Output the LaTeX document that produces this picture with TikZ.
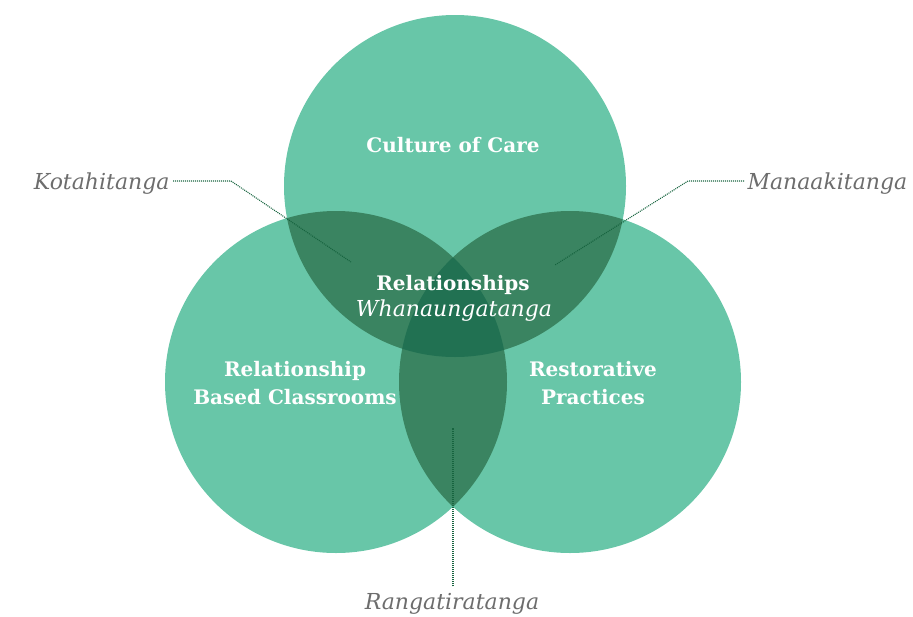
\documentclass[tikz,border=0pt]{standalone}
\usepackage{fontspec}
\setmainfont{DejaVu Serif}
\usetikzlibrary{positioning}
\definecolor{venngreen}{HTML}{68C6A8}
\definecolor{lensgreen}{HTML}{3A8461}
\definecolor{coregreen}{HTML}{217152}
\definecolor{leadgreen}{HTML}{17643F}
\definecolor{labelgray}{HTML}{6D6D6D}

\begin{document}
\begin{tikzpicture}[x=1pt,y=-1pt,
	setname/.style={text=white, font=\bfseries\fontsize{20}{28}\selectfont, align=center},
	valname/.style={text=labelgray, font=\itshape\fontsize{22}{26}\selectfont},
	leader/.style={leadgreen, dash pattern=on 1pt off 1pt, line width=1.1pt}]
	\useasboundingbox (0,0) rectangle (913,616);
	\coordinate (top) at (455,186);
	\coordinate (lft) at (336,382);
	\coordinate (rgt) at (570,382);
	\def\vennr{171}
	\fill[venngreen] (top) circle[radius=\vennr];
	\fill[venngreen] (lft) circle[radius=\vennr];
	\fill[venngreen] (rgt) circle[radius=\vennr];
	\begin{scope}
		\clip (top) circle[radius=\vennr];
		\fill[lensgreen] (lft) circle[radius=\vennr];
		\fill[lensgreen] (rgt) circle[radius=\vennr];
	\end{scope}
	\begin{scope}
		\clip (lft) circle[radius=\vennr];
		\fill[lensgreen] (rgt) circle[radius=\vennr];
	\end{scope}
	\begin{scope}
		\clip (top) circle[radius=\vennr];
		\clip (lft) circle[radius=\vennr];
		\fill[coregreen] (rgt) circle[radius=\vennr];
	\end{scope}
	\node[setname] (care) at (453,145) {Culture of Care};
	\node[setname] (rel) at (453,285) {Relationships};
	\node[valname, text=white] (wha) at (454,311) {Whanaungatanga};
	\node[setname] (rbc) at (295,383) {Relationship\\Based Classrooms};
	\node[setname] (rp) at (593,383) {Restorative\\Practices};
	\node[valname, anchor=east] (kot) at (173,184) {Kotahitanga};
	\node[valname, anchor=west] (man) at (744,184) {Manaakitanga};
	\node[valname, anchor=base] (ran) at (452,609) {Rangatiratanga};
	\coordinate (kotbend) at (231,181);
	\coordinate (kotend) at (351,262);
	\coordinate (manbend) at (688,181);
	\coordinate (manend) at (555,265);
	\coordinate (ranend) at (453,428);
	\draw[leader] (kot.east |- kotbend) -- (kotbend) -- (kotend);
	\draw[leader] (man.west |- manbend) -- (manbend) -- (manend);
	\draw[leader, shorten <=3pt] (ran.north -| ranend) -- (ranend);
\end{tikzpicture}
\end{document}
